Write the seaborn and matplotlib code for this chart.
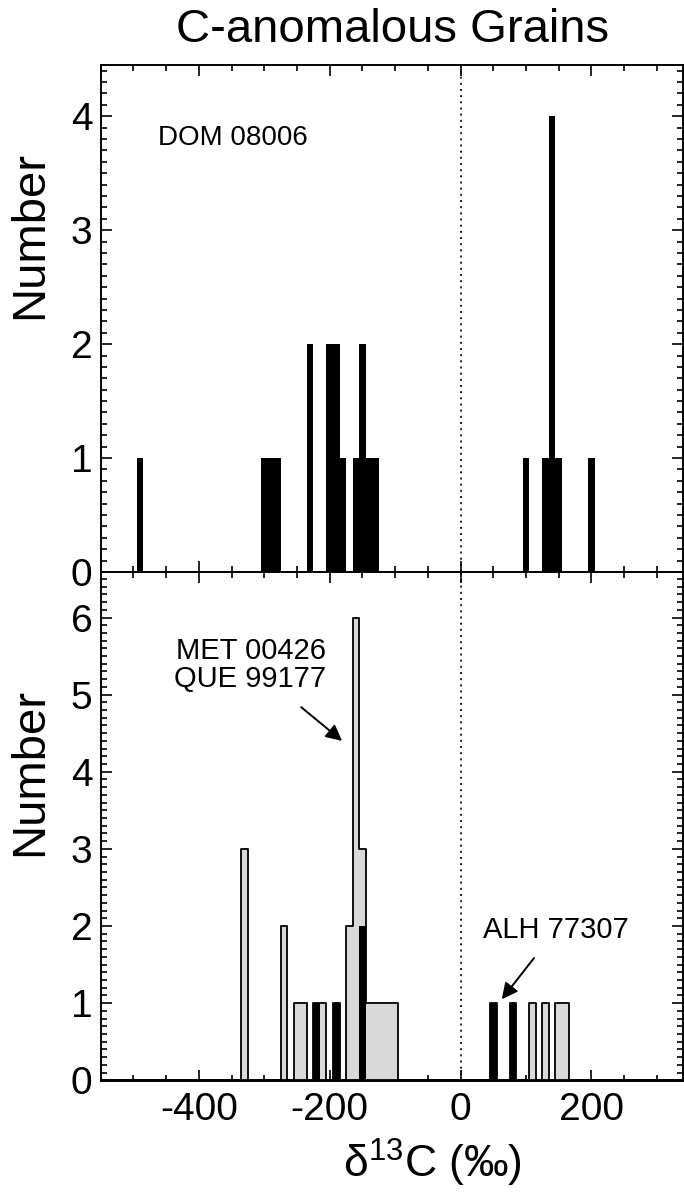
import numpy as np
import pandas as pd
import matplotlib
matplotlib.use("Agg")
import matplotlib.pyplot as plt
import seaborn as sns
from matplotlib.ticker import MultipleLocator, FuncFormatter

# ---- data (bin centres, 10 permil bins) ----
dom_bins = [-490, -300, -290, -280, -230, -200, -190, -180, -160, -150, -140, -130,
            100, 130, 140, 150, 200]
dom_counts = [1, 1, 1, 1, 2, 2, 2, 1, 1, 2, 1, 1,
              1, 1, 4, 1, 1]

all_bins = [-330, -270, -250, -240, -220, -210, -190, -170, -160, -150,
            -140, -130, -120, -110, -100, 50, 80, 110, 130, 150, 160]
all_counts = [3, 2, 1, 1, 1, 1, 1, 2, 6, 3,
              1, 1, 1, 1, 1, 1, 1, 1, 1, 1, 1]

alh_bins = [-220, -190, -150, 50, 80]
alh_counts = [1, 1, 2, 1, 1]

x_ticks = [-400, -200, 0, 200]
top_yticks = [0, 1, 2, 3, 4]
bot_yticks = [0, 1, 2, 3, 4, 5, 6]

sns.set_style("ticks")
plt.rcParams['font.family'] = ['Liberation Sans', 'DejaVu Sans']
plt.rcParams['mathtext.default'] = 'regular'
plt.rcParams['axes.unicode_minus'] = False
for k in ('text.color', 'axes.labelcolor', 'xtick.color', 'ytick.color', 'axes.edgecolor'):
    plt.rcParams[k] = 'black'

W, H = 684, 1196
fig = plt.figure(figsize=(W / 100, H / 100), dpi=100)
left = 100.7 / W
width = 582.3 / W
ax1 = fig.add_axes([left, 624 / H, width, 507 / H])
ax2 = fig.add_axes([left, 115 / H, width, 509 / H])

dom_df = pd.DataFrame({"d13C": dom_bins, "n": dom_counts})
all_df = pd.DataFrame({"d13C": all_bins, "n": all_counts})
alh_df = pd.DataFrame({"d13C": alh_bins, "n": alh_counts})

hist_kw = dict(x="d13C", weights="n", binwidth=10, binrange=(-555, 345))
sns.histplot(data=dom_df, element="bars", color="black", edgecolor="black",
             linewidth=0, alpha=1, ax=ax1, **hist_kw)
sns.histplot(data=all_df, element="step", fill=True, color="#d9d9d9",
             edgecolor="black", linewidth=1.3, alpha=1, ax=ax2, **hist_kw)
sns.histplot(data=alh_df, element="bars", color="black", edgecolor="black",
             linewidth=0, alpha=1, ax=ax2, **hist_kw)

fmt = FuncFormatter(lambda v, p: f"{int(round(v))}")
for ax, yt, ylim in ((ax1, top_yticks, (0.0, 4.45)), (ax2, bot_yticks, (-0.01, 6.59))):
    ax.axvline(0, color="black", ls=(0, (1.2, 2.5)), lw=1.2, zorder=0)
    ax.set_xlim(-550, 340)
    ax.set_ylim(*ylim)
    ax.set_xticks(x_ticks)
    ax.xaxis.set_major_formatter(fmt)
    ax.xaxis.set_minor_locator(MultipleLocator(50))
    ax.set_yticks(yt)
    ax.yaxis.set_minor_locator(MultipleLocator(0.1))
    ax.tick_params(which="both", direction="in", top=True, right=True,
                   bottom=True, left=True, width=1.2, colors="black",
                   labelsize=28, pad=6)
    ax.tick_params(which="major", length=8)
    ax.tick_params(which="minor", length=4.5)
    ax.set_xlabel("")
    ax.set_ylabel("")
    for s in ax.spines.values():
        s.set_linewidth(1.4)
        s.set_color("black")
        s.set_zorder(5)

ax1.tick_params(labelbottom=False)
ax2.tick_params(axis="x", pad=8)

ax1.text(-462, 3.81, "DOM 08006", fontsize=20, ha="left", va="center")
ax2.annotate("MET 00426\nQUE 99177", xy=(-181, 4.40), xytext=(-205, 5.38),
             fontsize=21, ha="right", va="center", linespacing=1.0,
             arrowprops=dict(arrowstyle="-|>", color="black", lw=1.4,
                             mutation_scale=24, shrinkA=12, shrinkB=0))
ax2.annotate("ALH 77307", xy=(63, 1.05), xytext=(146, 1.95),
             fontsize=21, ha="center", va="center",
             arrowprops=dict(arrowstyle="-|>", color="black", lw=1.4,
                             mutation_scale=24, shrinkA=10, shrinkB=0))

fig.text(393 / W, 1 - 30 / H, "C-anomalous Grains", fontsize=34,
         ha="center", va="center")
fig.text(30 / W, 1 - 235 / H, "Number", fontsize=34, rotation=90,
         ha="center", va="center")
fig.text(30 / W, 1 - 772 / H, "Number", fontsize=34, rotation=90,
         ha="center", va="center")
fig.text(432 / W, 1 - 1163 / H, "δ$^{13}$C (‰)", fontsize=32,
         ha="center", va="center")

fig.savefig("out.png", dpi=100)
